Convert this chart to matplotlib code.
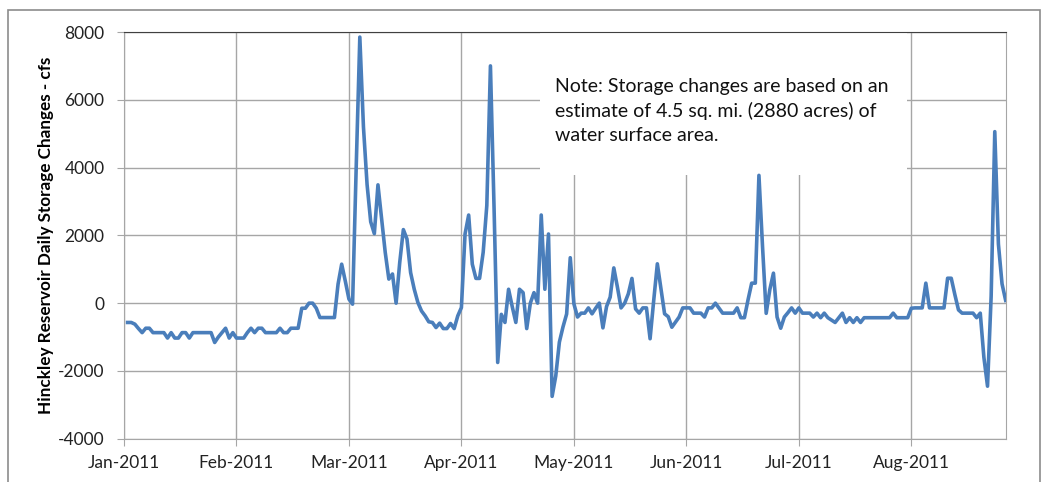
import matplotlib

matplotlib.use("Agg")

import matplotlib.pyplot as plt
import numpy as np
from matplotlib.patches import Rectangle

# daily storage change (cfs), Jan 2 .. Aug 31 2011
storage = [
    -570, -570, -620, -750, -870, -740, -740, -870, -870, -870,
    -870, -1030, -870, -1030, -1030, -870, -870, -1030, -870, -870,
    -870, -870, -870, -870, -1160, -1000, -870, -740, -1030, -870,
    -1030, -1030, -1030, -870, -740, -870, -740, -740, -870, -870,
    -870, -870, -740, -870, -870, -740, -740, -740, -150, -150,
    0, 0, -150, -425, -425, -425, -425, -425, 560, 1150,
    650, 120, -30, 4000, 7850, 5200, 3500, 2400, 2050, 3490,
    2480, 1500, 710, 860, 0, 1200, 2170, 1890, 900, 410,
    20, -230, -375, -550, -570, -720, -590, -750, -750, -600,
    -750, -375, -130, 2040, 2600, 1150, 730, 730, 1500, 2880,
    7000, 2800, -1750, -330, -570, 410, -100, -570, 410, 310,
    -750, 0, 310, 0, 2600, 410, 2040, -2750, -2150, -1150,
    -700, -320, 1340, -20, -410, -295, -295, -140, -315, -150,
    0, -730, -100, 177, 1040, 470, -140, 0, 275, 730,
    -170, -295, -140, -140, -1050, 80, 1160, 420, -315, -400,
    -710, -560, -410, -140, -140, -140, -295, -295, -295, -410,
    -140, -140, 0, -150, -295, -295, -295, -295, -140, -430,
    -430, 100, 590, 590, 3770, 1650, -300, 400, 885, -410,
    -740, -410, -280, -140, -295, -140, -295, -295, -295, -410,
    -295, -430, -295, -430, -500, -570, -430, -295, -570, -430,
    -570, -430, -570, -430, -430, -430, -430, -430, -430, -430,
    -430, -295, -430, -430, -430, -430, -150, -140, -140, -140,
    590, -140, -140, -140, -140, -140, 735, 735, 250, -200,
    -295, -295, -295, -295, -430, -295, -1600, -2450, 200, 5060,
    1745, 570, 80,
]
month_labels = ["Jan-2011", "Feb-2011", "Mar-2011", "Apr-2011",
                "May-2011", "Jun-2011", "Jul-2011", "Aug-2011"]
month_days = [0, 31, 62, 93, 124, 155, 186, 217]
y_ticks = [-4000, -2000, 0, 2000, 4000, 6000, 8000]

note = ("Note: Storage changes are based on an\n"
        "estimate of 4.5 sq. mi. (2880 acres) of\n"
        "water surface area.")

plt.rcParams["font.family"] = ["Lato", "DejaVu Sans"]
plt.rcParams["axes.unicode_minus"] = False

fig = plt.figure(figsize=(10.48, 4.82), dpi=100)
ax = fig.add_axes([0.1183, 0.0898, 0.8413, 0.8438])

days = np.arange(1, len(storage) + 1)
ax.plot(days, storage, color="#4a7ebb", linewidth=2.6, solid_joinstyle="round", zorder=3)

ax.set_xlim(0, 243)
ax.set_ylim(-4000, 8000)
ax.set_xticks(month_days)
ax.set_xticklabels(month_labels)
ax.set_yticks(y_ticks)
ax.grid(True, color="#a6a6a6", linewidth=1.0)
ax.set_axisbelow(True)
ax.tick_params(axis="both", direction="out", length=5, color="#a6a6a6",
               labelsize=12.5, labelcolor="#222222")
ax.tick_params(axis="x", pad=7)
ax.tick_params(axis="y", pad=9)
for side in ["left", "bottom", "right"]:
    ax.spines[side].set_color("#a6a6a6")
ax.spines["top"].set_color("#404040")
ax.spines["top"].set_zorder(6)

ax.set_ylabel("Hinckley Reservoir Daily Storage Changes - cfs",
              fontsize=12.3, fontweight="bold", labelpad=3)

# white note box hides the grid lines behind it
ax.add_patch(Rectangle((0.472, 0.648), 0.416, 0.349, transform=ax.transAxes,
                       facecolor="white", edgecolor="none", zorder=2))
ax.text(0.489, 0.888, note, transform=ax.transAxes, fontsize=14,
        va="top", ha="left", linespacing=1.5, color="#111111", zorder=4)

# chart area border
fig.patches.append(Rectangle((8 / 1048, -0.1), 1032 / 1048, 1 - 10 / 482 + 0.1,
                             transform=fig.transFigure, fill=False,
                             edgecolor="#8c8c8c", linewidth=1.2))

fig.savefig("out.png", dpi=100)
plt.close(fig)
